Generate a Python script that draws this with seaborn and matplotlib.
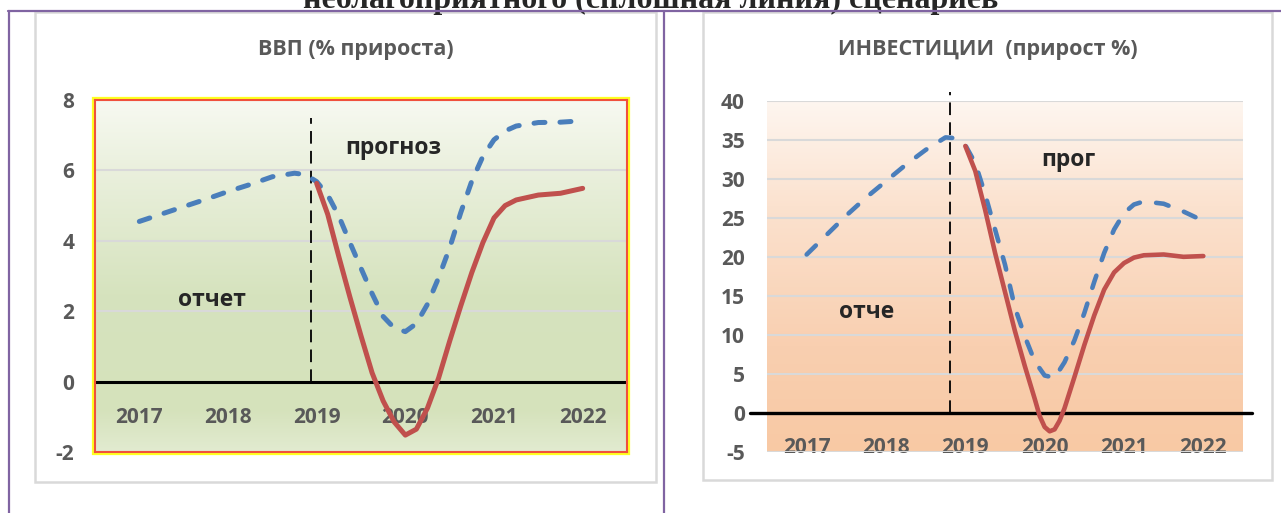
import numpy as np
import pandas as pd
import matplotlib
matplotlib.use("Agg")
import matplotlib.pyplot as plt
import matplotlib.colors as mcolors
from matplotlib.patches import Rectangle
from matplotlib.lines import Line2D
import seaborn as sns

# --- данные ---
years = [2017, 2018, 2019, 2020, 2021, 2022]

# ВВП, базовый сценарий (пунктир)
gdp_base_t = [2017.0, 2017.25, 2017.5, 2017.75, 2018.0, 2018.25, 2018.5, 2018.75, 2018.875,
              2019.0, 2019.125, 2019.25, 2019.375, 2019.5, 2019.625, 2019.75, 2019.875,
              2020.0, 2020.125, 2020.25, 2020.375, 2020.5, 2020.625, 2020.75, 2020.875,
              2021.0, 2021.125, 2021.25, 2021.5, 2021.75, 2022.0]
gdp_base = [4.55, 4.76, 4.97, 5.18, 5.40, 5.60, 5.82, 5.92, 5.88,
            5.68, 5.30, 4.70, 3.95, 3.22, 2.50, 1.85, 1.52,
            1.42, 1.65, 2.20, 2.95, 3.80, 4.80, 5.70, 6.40,
            6.87, 7.12, 7.26, 7.36, 7.37, 7.41]

# ВВП, неблагоприятный сценарий (сплошная)
gdp_adv_t = [2019.0, 2019.125, 2019.25, 2019.375, 2019.5, 2019.625, 2019.75, 2019.875,
             2020.0, 2020.125, 2020.25, 2020.375, 2020.5, 2020.625, 2020.75, 2020.875,
             2021.0, 2021.125, 2021.25, 2021.5, 2021.75, 2022.0]
gdp_adv = [5.63, 4.75, 3.55, 2.40, 1.30, 0.25, -0.55, -1.15,
           -1.52, -1.35, -0.75, 0.10, 1.15, 2.15, 3.10, 3.95,
           4.65, 5.00, 5.16, 5.30, 5.35, 5.49]

# Инвестиции, базовый сценарий (пунктир)
inv_base_t = [2017.0, 2017.25, 2017.5, 2017.75, 2018.0, 2018.25, 2018.5, 2018.75, 2018.875,
              2019.0, 2019.125, 2019.25, 2019.375, 2019.5, 2019.625, 2019.75, 2019.875,
              2020.0, 2020.125, 2020.25, 2020.375, 2020.5, 2020.625, 2020.75, 2020.875,
              2021.0, 2021.125, 2021.25, 2021.5, 2021.75, 2022.0]
inv_base = [20.3, 22.8, 25.3, 27.6, 29.7, 31.8, 33.7, 35.3, 35.2,
            34.3, 32.0, 28.0, 23.5, 19.0, 13.5, 9.8, 6.6,
            4.8, 4.5, 6.5, 9.3, 12.8, 16.8, 20.5, 23.5,
            25.6, 26.7, 27.1, 26.8, 25.8, 24.6]

# Инвестиции, неблагоприятный сценарий (сплошная)
inv_adv_t = [2019.0, 2019.125, 2019.25, 2019.375, 2019.5, 2019.625, 2019.75, 2019.875,
             2019.9375, 2020.0, 2020.0625, 2020.125, 2020.1875, 2020.25, 2020.375, 2020.5,
             2020.625, 2020.75, 2020.875, 2021.0, 2021.125, 2021.25, 2021.5, 2021.75, 2022.0]
inv_adv = [34.2, 31.0, 26.0, 20.5, 15.5, 10.5, 6.0, 1.8,
           -0.4, -1.8, -2.35, -2.1, -1.0, 0.6, 4.6, 8.7,
           12.5, 15.8, 18.0, 19.2, 19.9, 20.2, 20.3, 20.0, 20.1]

gdp_ticks = [-2, 0, 2, 4, 6, 8]
inv_ticks = [-5, 0, 5, 10, 15, 20, 25, 30, 35, 40]

BLUE = "#4a7ebb"
RED = "#c0504d"
GRAY = "#595959"
PURPLE = "#8064a2"

sns.set_style("white")
plt.rcParams["font.family"] = ["Open Sans", "DejaVu Sans"]
plt.rcParams["axes.unicode_minus"] = False

W, H = 1281, 513
fig = plt.figure(figsize=(W / 100, H / 100), dpi=100)


def px_rect(x0, y0, x1, y1):
    # пиксельный прямоугольник -> доли фигуры
    return [x0 / W, 1 - y1 / H, (x1 - x0) / W, (y1 - y0) / H]


def fill_gradient(ax, stops):
    cmap = mcolors.LinearSegmentedColormap.from_list("bg", stops)
    grad = np.linspace(0, 1, 256).reshape(-1, 1)
    ax.imshow(grad, cmap=cmap, aspect="auto", extent=[0, 1, 0, 1], origin="lower",
              transform=ax.transAxes, zorder=0, interpolation="bicubic")


def draw_series(ax, t, v, color, lw, dashes=None):
    df = pd.DataFrame({"t": t, "v": v})
    if dashes:
        kw = dict(linestyle=(0, dashes), dash_capstyle="round", dash_joinstyle="round")
    else:
        kw = dict(solid_capstyle="round", solid_joinstyle="round")
    sns.lineplot(data=df, x="t", y="v", ax=ax, color=color, lw=lw, estimator=None,
                 sort=False, zorder=4, **kw)


def style_axes(ax, ticks, ypad, xpad):
    ax.set_xlim(2016.5, 2022.5)
    ax.set_ylim(ticks[0], ticks[-1])
    ax.set_xticks(years)
    ax.set_yticks(ticks)
    ax.set_xlabel("")
    ax.set_ylabel("")
    ax.set_axisbelow(True)
    ax.yaxis.grid(True, color="#d9d9d9", lw=1.5)
    ax.xaxis.grid(False)
    ax.tick_params(axis="y", length=0, pad=ypad, labelsize=15, labelcolor=GRAY)
    ax.tick_params(axis="x", length=0, pad=xpad, labelsize=15, labelcolor=GRAY)
    for lab in ax.get_xticklabels() + ax.get_yticklabels():
        lab.set_fontweight("bold")


# --- карточки и рамка ---
for x0, x1, y1 in [(35, 656, 482), (703, 1272, 480)]:
    fig.add_artist(Rectangle((x0 / W, 1 - y1 / H), (x1 - x0) / W, (y1 - 12) / H,
                             transform=fig.transFigure, facecolor="white",
                             edgecolor="#d9d9d9", lw=1.8, zorder=-3))

fig.text(651 / W, 1 - 8 / H, "неблагоприятного (сплошная линия) сценариев",
         family=["Liberation Serif", "DejaVu Serif"], fontweight="bold", fontsize=23,
         ha="center", va="baseline", zorder=-2)
for xs, ys in [([8 / W, 1], [1 - 10.5 / H] * 2),
               ([9 / W] * 2, [0, 1 - 10.5 / H]),
               ([664 / W] * 2, [0, 1 - 10.5 / H])]:
    fig.add_artist(Line2D(xs, ys, transform=fig.transFigure, color=PURPLE, lw=1.6, zorder=5))

# --- ВВП ---
ax1 = fig.add_axes(px_rect(95, 100, 627, 452))
fig.add_artist(Rectangle(ax1.get_position().p0, ax1.get_position().width, ax1.get_position().height,
                         transform=fig.transFigure, facecolor="none", edgecolor="#ffff20",
                         lw=4.5, zorder=-1))
fill_gradient(ax1, [(0.0, "#e2ebd0"), (0.12, "#d5e2bb"), (0.45, "#d6e3be"),
                    (0.8, "#eaf0dd"), (1.0, "#f7f9f1")])
ax1.axhline(0, color="black", lw=2.2, zorder=3)
ax1.plot([2018.94, 2018.94], [0, 7.5], color="black", lw=1.3, linestyle=(0, (7, 4)), zorder=3)
draw_series(ax1, gdp_base_t, gdp_base, BLUE, 3.6, dashes=(2.2, 3.0))
draw_series(ax1, gdp_adv_t, gdp_adv, RED, 3.6)
style_axes(ax1, gdp_ticks, ypad=15, xpad=-32.5)
for s in ax1.spines.values():
    s.set_visible(True)
    s.set_color("#f0503c")
    s.set_linewidth(1.5)
    s.set_zorder(6)
ax1.text(2019.87, 6.64, "прогноз", fontsize=16.5, fontweight="bold", ha="center", va="center", zorder=5)
ax1.text(2017.82, 2.32, "отчет", fontsize=16.5, fontweight="bold", ha="center", va="center", zorder=5)
fig.text(356 / W, 1 - 50 / H, "ВВП (% прироста)", fontsize=15.5, fontweight="bold",
         color=GRAY, ha="center", va="center")

# --- Инвестиции ---
ax2 = fig.add_axes(px_rect(767, 100.7, 1243, 452))
fill_gradient(ax2, [(0.0, "#f8c9a4"), (0.3, "#f9cfb0"), (0.7, "#fbe2cf"), (1.0, "#fef6f0")])
ax2.axhline(0, xmin=-0.036, xmax=1.019, color="black", lw=2.4, zorder=3, clip_on=False)
ax2.plot([2018.81, 2018.81], [0, 41.1], color="black", lw=1.3, linestyle=(0, (7, 4)),
         zorder=3, clip_on=False)
draw_series(ax2, inv_base_t, inv_base, BLUE, 3.3, dashes=(2.8, 3.6))
draw_series(ax2, inv_adv_t, inv_adv, RED, 3.3)
style_axes(ax2, inv_ticks, ypad=16, xpad=-11)
for s in ax2.spines.values():
    s.set_visible(False)
ax2.text(2020.3, 32.4, "прог", fontsize=16.5, fontweight="bold", ha="center", va="center", zorder=5)
ax2.text(2017.76, 12.9, "отче", fontsize=16.5, fontweight="bold", ha="center", va="center", zorder=5)
fig.text(988 / W, 1 - 50 / H, "ИНВЕСТИЦИИ  (прирост %)", fontsize=15.5, fontweight="bold",
         color=GRAY, ha="center", va="center")

fig.savefig("out.png", dpi=100)
